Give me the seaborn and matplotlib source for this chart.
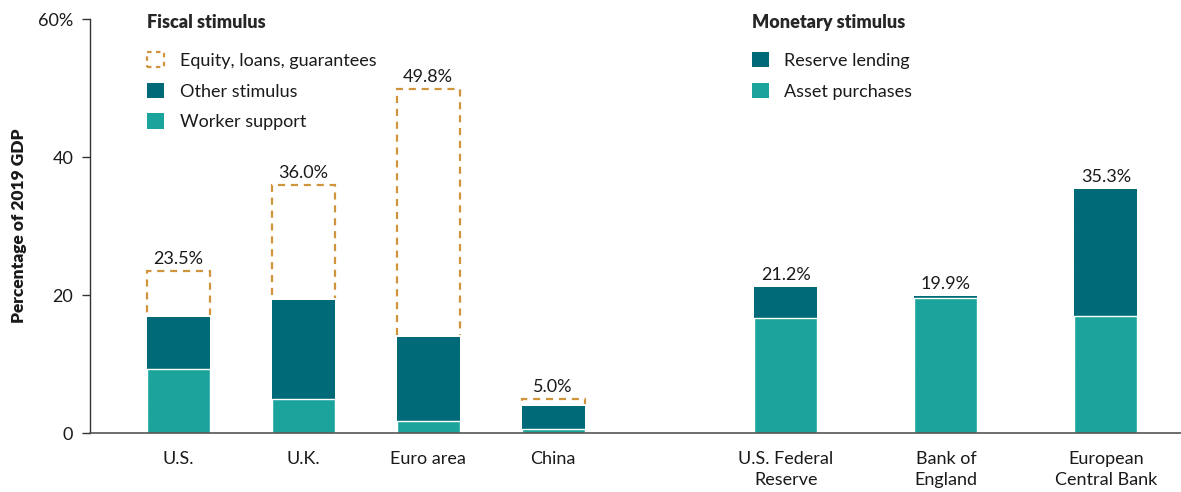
import matplotlib as mpl
mpl.use("Agg")
import matplotlib.pyplot as plt
from matplotlib.patches import Patch
import seaborn as sns
import numpy as np
import pandas as pd

# data (% of 2019 GDP)
entities = ["U.S.", "U.K.", "Euro area", "China",
            "U.S. Federal\nReserve", "Bank of\nEngland", "European\nCentral Bank"]
# worker support (fiscal) / asset purchases (monetary)
lower_part = [9.3, 4.9, 1.7, 0.6, 16.7, 19.5, 17.0]
# other stimulus (fiscal) / reserve lending (monetary)
upper_part = [7.5, 14.4, 12.2, 3.3, 4.5, 0.4, 18.3]
# equity, loans, guarantees (fiscal only)
equity_part = [6.7, 16.7, 35.9, 1.1, 0.0, 0.0, 0.0]
total_labels = [23.5, 36.0, 49.8, 5.0, 21.2, 19.9, 35.3]
fiscal_labels = ["Equity, loans, guarantees", "Other stimulus", "Worker support"]
monetary_labels = ["Reserve lending", "Asset purchases"]
y_ticks = [0, 20, 40, 60]

DARK = "#006a79"
LIGHT = "#1aa49c"
GOLD = "#d0953c"
TEXT = "#1a1a1a"

sns.set_theme(style="white")
plt.rcParams["font.family"] = ["Lato", "DejaVu Sans"]

# layout: fiscal bars one unit apart, monetary bars a bit wider apart after a gap
n_fiscal = 4
pos = [float(i) for i in range(n_fiscal)]
pos += [n_fiscal - 1 + 1.86 + 1.28 * i for i in range(len(entities) - n_fiscal)]

df = pd.DataFrame({"name": entities, "pos": pos,
                   "lower": lower_part, "upper": upper_part, "equity": equity_part})
df["solid_top"] = df["lower"] + df["upper"]
df["dash_top"] = df["solid_top"] + df["equity"]

fig = plt.figure(figsize=(11.81, 4.92), dpi=100)
ax = fig.add_axes([90 / 1181, 1 - 433 / 492, 1 - 90 / 1181, (433 - 19) / 492])

bw = 0.504
# dashed outline for equity/loans/guarantees
sns.barplot(data=df, x="pos", y="dash_top", native_scale=True, width=bw, errorbar=None,
            fill=False, color=GOLD, linewidth=1.6, linestyle=(0, (3.2, 2.6)), ax=ax)
# white mask hides the dashed outline below the solid stack
sns.barplot(data=df, x="pos", y="solid_top", native_scale=True, width=bw, errorbar=None,
            color="white", edgecolor="white", linewidth=3.5, saturation=1, ax=ax)
sns.barplot(data=df, x="pos", y="solid_top", native_scale=True, width=bw, errorbar=None,
            color=DARK, edgecolor="none", linewidth=0, saturation=1, ax=ax)
sns.barplot(data=df, x="pos", y="lower", native_scale=True, width=bw, errorbar=None,
            color=LIGHT, edgecolor="white", linewidth=1.0, saturation=1, ax=ax)

for x, top, lab in zip(df["pos"], df["dash_top"], total_labels):
    ax.annotate(f"{lab:.1f}%", (x, top), xytext=(0, 5), textcoords="offset points",
                ha="center", va="baseline", fontsize=13, color=TEXT)

ax.set_xlim(-0.704, 8.02)
ax.set_ylim(0, 60)
ax.set_xticks(pos)
ax.set_xticklabels(entities, fontsize=13, color=TEXT, linespacing=1.4)
ax.set_yticks(y_ticks)
ax.set_yticklabels([f"{t}%" if t == y_ticks[-1] else str(t) for t in y_ticks],
                   fontsize=13, color=TEXT)
ax.tick_params(axis="x", length=0, pad=13)
ax.tick_params(axis="y", length=6, width=1, color="#333333", pad=6, left=True)
ax.set_xlabel("")
ax.set_ylabel("Percentage of 2019 GDP", fontsize=12.5, fontweight="heavy", color=TEXT, labelpad=8)

for s in ["top", "right"]:
    ax.spines[s].set_visible(False)
ax.spines["left"].set_color("#333333")
ax.spines["left"].set_linewidth(1)
ax.spines["bottom"].set_color("#555555")
ax.spines["bottom"].set_linewidth(1.2)

fiscal_handles = [
    Patch(facecolor="none", edgecolor=GOLD, linewidth=1.6, linestyle=(0, (2, 2))),
    Patch(facecolor=DARK, edgecolor="none"),
    Patch(facecolor=LIGHT, edgecolor="none"),
]
monetary_handles = [
    Patch(facecolor=DARK, edgecolor="none"),
    Patch(facecolor=LIGHT, edgecolor="none"),
]

leg_kw = dict(frameon=False, loc="upper left", borderpad=0, borderaxespad=0,
              handlelength=0.95, handleheight=0.95, handletextpad=0.85, labelspacing=0.76,
              fontsize=13, alignment="left", labelcolor=TEXT,
              title_fontproperties={"weight": "heavy", "size": 13})
leg1 = fig.legend(fiscal_handles, fiscal_labels, title="Fiscal stimulus",
                  bbox_to_anchor=(147 / 1181, 1 - 14 / 492), **leg_kw)
leg2 = fig.legend(monetary_handles, monetary_labels, title="Monetary stimulus",
                  bbox_to_anchor=(752 / 1181, 1 - 14 / 492), **leg_kw)
for leg in (leg1, leg2):
    leg._legend_box.sep = 15

fig.savefig("out.png", dpi=100)
